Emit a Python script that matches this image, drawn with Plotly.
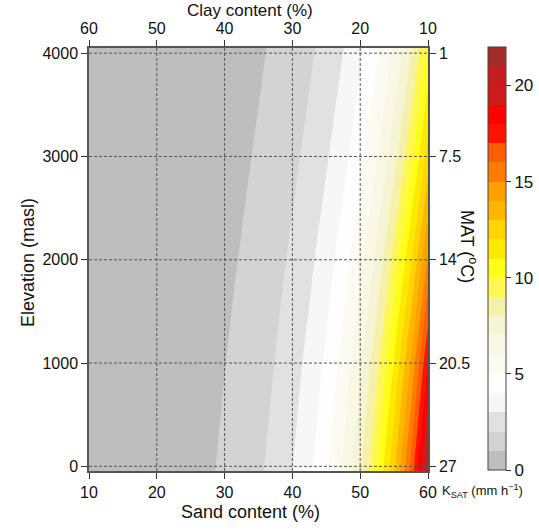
import plotly.graph_objects as go

# ---- data ----
sand = [10, 12.5, 15, 17.5, 20, 22.5, 25, 27.5, 30, 32.5, 35, 37.5, 40,
        42.5, 45, 47.5, 50, 52.5, 55, 57.5, 60]
elevation = [-50, 1000, 2000, 3000, 4050]

ksat_m50 = [0.163, 0.208, 0.265, 0.337, 0.430, 0.548, 0.698, 0.890, 1.134, 1.445, 1.842,
            2.347, 2.991, 3.812, 4.858, 6.191, 7.890, 10.05, 12.81, 16.33, 20.81]
ksat_1000 = [0.141, 0.180, 0.229, 0.292, 0.372, 0.474, 0.604, 0.770, 0.981, 1.250, 1.593,
             2.030, 2.587, 3.297, 4.202, 5.355, 6.824, 8.697, 11.08, 14.12, 18.00]
ksat_2000 = [0.118, 0.151, 0.192, 0.245, 0.312, 0.398, 0.507, 0.647, 0.824, 1.050, 1.338,
             1.705, 2.173, 2.769, 3.529, 4.497, 5.731, 7.304, 9.308, 11.86, 15.12]
ksat_3000 = [0.097, 0.124, 0.158, 0.201, 0.256, 0.326, 0.416, 0.530, 0.675, 0.861, 1.097,
             1.398, 1.781, 2.270, 2.893, 3.687, 4.699, 5.988, 7.631, 9.725, 12.39]
ksat_4050 = [0.079, 0.100, 0.127, 0.162, 0.207, 0.264, 0.336, 0.428, 0.546, 0.695, 0.886,
             1.129, 1.439, 1.833, 2.336, 2.977, 3.794, 4.835, 6.162, 7.853, 10.20]

sand_ticks = [10, 20, 30, 40, 50, 60]
clay_ticks = [60, 50, 40, 30, 20, 10]
elev_ticks = [0, 1000, 2000, 3000, 4000]
mat_ticks = [27, 20.5, 14, 7.5, 1]
mat_labels = ["27", "20.5", "14", "7.5", "1"]
cbar_ticks = [0, 5, 10, 15, 20]

band_colors = ['#bebebe', '#d3d3d3', '#e1e1e1', '#f7f7f7', '#fefefe', '#fbfbf1',
               '#f8f8e5', '#f5f5d6', '#f6f1a8', '#fff752', '#ffff1a', '#ffe900',
               '#ffd400', '#ffb600', '#ffa000', '#ff7c00', '#ff5e00', '#ff1200',
               '#ff0000', '#cd1c1c', '#c41e1e', '#a52a2a']

# ---- styling ----
W, H = 539, 530
ML, MR, MT, MB = 89, 111, 48, 59
plot_w = W - ML - MR
plot_h = H - MT - MB
y_range = [-45, 4050]
lapse = 0.0065
mat_range = [27 - lapse * y_range[0], 27 - lapse * y_range[1]]
FONT = "Liberation Sans, Arial, sans-serif"
GRID = dict(color='#555', width=1, dash='3px,2px')


def px_x(px):
    return (px - ML) / plot_w


def px_y(py):
    return (MT + plot_h - py) / plot_h


n_lvl = len(band_colors)

# step colorscale for contour fill (plotly maps band centres to (k+1)/(n+1))
cols = [band_colors[0]] + band_colors
fill_scale = []
for j, col in enumerate(cols):
    lo = 0.0 if j == 0 else (j - 0.5) / (n_lvl + 1)
    hi = 1.0 if j == len(cols) - 1 else (j + 0.5) / (n_lvl + 1)
    fill_scale.append([lo, col])
    fill_scale.append([hi, col])

# step colorscale for the colour bar (0..22, one band per unit)
cb_scale = []
for k, col in enumerate(band_colors):
    cb_scale.append([k / n_lvl, col])
    cb_scale.append([(k + 1) / n_lvl, col])

z = [ksat_m50, ksat_1000, ksat_2000, ksat_3000, ksat_4050]

fig = go.Figure()
fig.add_trace(go.Contour(
    x=sand, y=elevation, z=z,
    contours=dict(start=0, end=n_lvl, size=1, coloring='fill', showlines=False),
    colorscale=fill_scale, line_width=0, hoverinfo='skip', showscale=False,
))
# colour bar carrier (no visible points)
fig.add_trace(go.Scatter(
    x=[None], y=[None], mode='markers', hoverinfo='skip', showlegend=False,
    marker=dict(color=[0], cmin=0, cmax=n_lvl, colorscale=cb_scale, showscale=True,
                colorbar=dict(
                    x=px_x(488), xanchor='left', xref='paper',
                    y=px_y(47), yanchor='top', yref='paper',
                    len=(470 - 47) / plot_h, lenmode='fraction',
                    thickness=18, thicknessmode='pixels',
                    outlinecolor='#444', outlinewidth=1,
                    tickvals=cbar_ticks, ticks='outside', ticklen=5, tickcolor='#333',
                    tickfont=dict(family=FONT, size=17, color='#111'),
                    ypad=0, xpad=0,
                )),
))
fig.add_trace(go.Scatter(x=[], y=[], xaxis='x2', yaxis='y', showlegend=False))
fig.add_trace(go.Scatter(x=[], y=[], xaxis='x', yaxis='y2', showlegend=False))

axis_common = dict(
    ticks='outside', ticklen=6, tickcolor='#333', tickwidth=1,
    showline=True, linecolor='#555', linewidth=1.5,
    tickfont=dict(family=FONT, size=16, color='#111'),
    zeroline=False, showgrid=False, layer='above traces',
)

shapes = []
for v in sand_ticks[1:-1]:
    shapes.append(dict(type='line', xref='x', yref='paper', x0=v, x1=v, y0=0, y1=1,
                       line=GRID, layer='above'))
for v in elev_ticks:
    shapes.append(dict(type='line', xref='paper', yref='y', x0=0, x1=1, y0=v, y1=v,
                       line=GRID, layer='above'))

fig.update_layout(
    width=W, height=H,
    margin=dict(l=ML, r=MR, t=MT, b=MB, pad=0, autoexpand=False),
    paper_bgcolor='white', plot_bgcolor='white',
    font=dict(family=FONT, color='#111'),
    showlegend=False,
    xaxis=dict(range=[10, 60], tickvals=sand_ticks, **axis_common),
    xaxis2=dict(range=[clay_ticks[0], clay_ticks[-1]], tickvals=clay_ticks,
                overlaying='x', side='top', anchor='y', **axis_common),
    yaxis=dict(range=y_range, tickvals=elev_ticks, **axis_common),
    yaxis2=dict(range=mat_range, tickvals=mat_ticks, ticktext=mat_labels,
                overlaying='y', side='right', anchor='x', **axis_common),
    shapes=shapes,
    annotations=[
        dict(text='Sand content (%)', x=px_x(250), y=px_y(512), xref='paper', yref='paper',
             showarrow=False, font=dict(family=FONT, size=18, color='#111'),
             xanchor='center', yanchor='middle'),
        dict(text='Clay content (%)', x=px_x(250), y=px_y(11), xref='paper', yref='paper',
             showarrow=False, font=dict(family=FONT, size=17, color='#111'),
             xanchor='center', yanchor='middle'),
        dict(text='Elevation (masl)', textangle=-90, x=px_x(28), y=px_y(262),
             xref='paper', yref='paper', showarrow=False,
             font=dict(family=FONT, size=18, color='#111'),
             xanchor='center', yanchor='middle'),
        dict(text='MAT (<sup>o</sup>C)', textangle=90, x=px_x(469), y=px_y(246),
             xref='paper', yref='paper', showarrow=False,
             font=dict(family=FONT, size=18, color='#111'),
             xanchor='center', yanchor='middle'),
        dict(text='K<sub>SAT</sub> (mm h<sup>−1</sup>)', x=px_x(440), y=px_y(491),
             xref='paper', yref='paper', showarrow=False,
             font=dict(family=FONT, size=13, color='#111'),
             xanchor='left', yanchor='middle'),
    ],
)

fig.write_html("out.html", config={'displayModeBar': False},
               post_script="document.body.style.margin='0';")
